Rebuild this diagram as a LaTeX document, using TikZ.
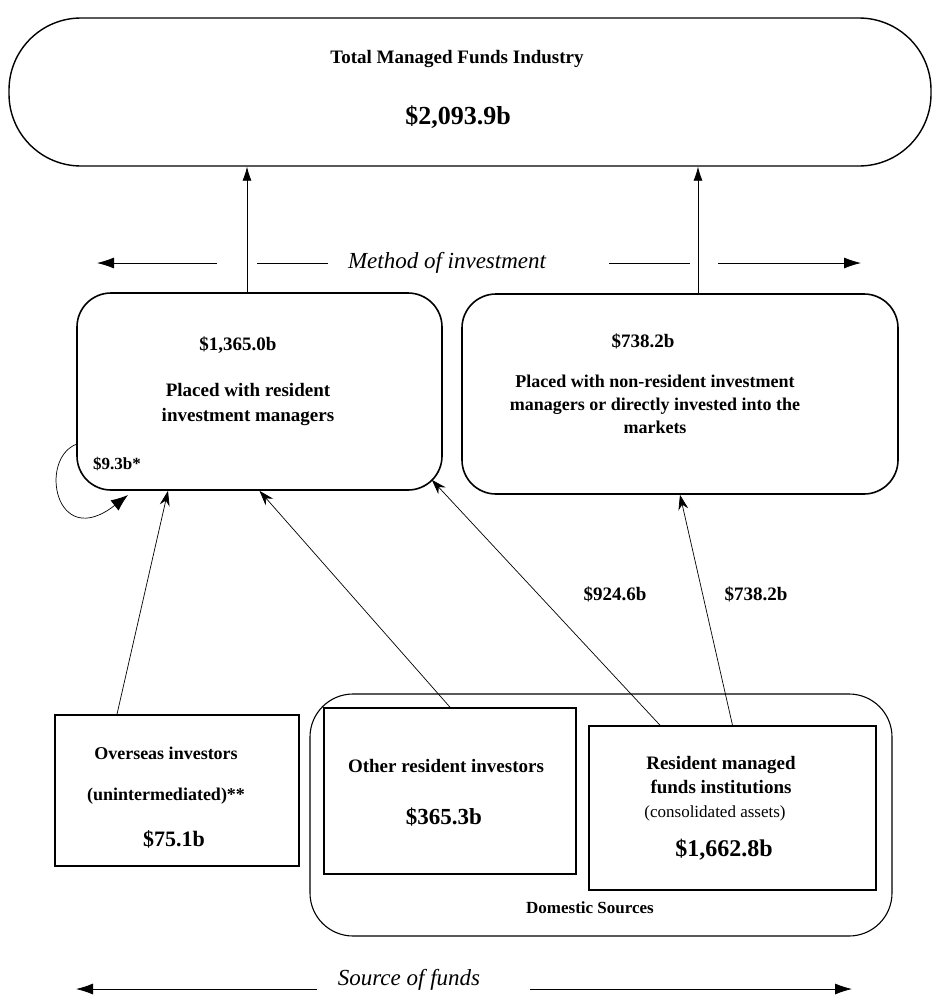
\documentclass[tikz,border=0pt]{standalone}
\usepackage{fontspec}
\setmainfont{Liberation Serif}
\usetikzlibrary{arrows.meta}

\begin{document}
\begin{tikzpicture}[
    x=1pt, y=-1pt,
    block/.style={draw, line width=1.6pt, inner sep=0pt},
    rblock/.style={block, rounded corners=34pt},
    txt/.style={font=\bfseries\fontsize{19}{24}\selectfont, align=center, inner sep=0pt},
    amt/.style={font=\bfseries\fontsize{23}{28}\selectfont, inner sep=0pt},
    axtxt/.style={font=\itshape\fontsize{23}{28}\selectfont, inner sep=0pt},
    line/.style={draw, line width=0.7pt, -{Stealth[length=15pt,width=10pt,inset=5pt]}},
    up/.style={draw, line width=0.8pt, -{Latex[length=14pt,width=9pt]}},
    axis/.style={draw, line width=0.8pt, -{Latex[length=17pt,width=11pt]}}
]
    \useasboundingbox (0,0) rectangle (934,996);

    % top
    \node [block, line width=1.4pt, rounded corners=72pt, minimum width=922pt, minimum height=148pt] (total) at (470,92) {};
    \node [txt] (totaltxt) at (457,59) {Total Managed Funds Industry};
    \node [amt, font=\bfseries\fontsize{26}{30}\selectfont] (totalamt) at (458,117) {\$2,093.9b};

    % method of investment
    \node [axtxt] (method) at (447,263) {Method of investment};
    \coordinate (mA) at (217,263); \coordinate (mB) at (97,263);
    \coordinate (mC) at (257,263); \coordinate (mD) at (328,263);
    \coordinate (mE) at (609,263); \coordinate (mF) at (690,263);
    \coordinate (mG) at (718,263); \coordinate (mH) at (861,263);
    \path [axis] (mA) -- (mB);
    \draw [line width=0.8pt] (mC) -- (mD);
    \draw [line width=0.8pt] (mE) -- (mF);
    \path [axis] (mG) -- (mH);

    % placement
    \node [rblock, minimum width=365pt, minimum height=197pt] (resmgr) at (259.5,391.5) {};
    \node [txt] (resmgramt) at (238,345) {\$1,365.0b};
    \node [txt, font=\bfseries\fontsize{19}{25}\selectfont] (resmgrtxt) at (248,404) {Placed with resident\\investment managers};
    \node [txt, font=\bfseries\fontsize{17}{20}\selectfont] (reinv) at (117,464) {\$9.3b*};

    \node [rblock, minimum width=436pt, minimum height=200pt] (nonres) at (680,394) {};
    \node [txt] (nonresamt) at (643,341) {\$738.2b};
    \node [txt, font=\bfseries\fontsize{18}{23}\selectfont] (nonrestxt) at (655,404) {Placed with non-resident investment\\managers or directly invested into the\\markets};

    % sources
    \node [draw, line width=1.1pt, rounded corners=43pt, minimum width=582pt, minimum height=242pt] (domestic) at (601,815) {};
    \node [txt, font=\bfseries\fontsize{17}{20}\selectfont] (domtxt) at (590,908) {Domestic Sources};

    \node [block, minimum width=244pt, minimum height=151pt] (overseas) at (177,790.5) {};
    \node [txt, font=\bfseries\fontsize{18}{41}\selectfont] (overseastxt) at (166,776) {Overseas investors\\(unintermediated)**};
    \node [amt, font=\bfseries\fontsize{22}{26}\selectfont] (overseasamt) at (174,839) {\$75.1b};

    \node [block, fill=white, minimum width=252pt, minimum height=166pt] (other) at (450,791) {};
    \node [txt] (othertxt) at (446,766) {Other resident investors};
    \node [amt] (otheramt) at (444,817) {\$365.3b};

    \node [block, minimum width=287pt, minimum height=164pt] (rmfi) at (732.5,808) {};
    \node [txt] (rmfitxt) at (721,775) {Resident managed\\funds institutions};
    \node [inner sep=0pt, font=\fontsize{17}{20}\selectfont] (rmfinote) at (715,813) {(consolidated assets)};
    \node [amt, font=\bfseries\fontsize{24}{28}\selectfont] (rmfiamt) at (724,850) {\$1,662.8b};

    % flows
    \path [up] ([xshift=-12.5pt]resmgr.north) -- ([xshift=-12.5pt]resmgr.north |- total.south);
    \path [up] ([xshift=18pt]nonres.north) -- ([xshift=18pt]nonres.north |- total.south);
    \path [line] ([xshift=-60pt]overseas.north) -- ([xshift=-91.5pt]resmgr.south);
    \path [line] (other.north) -- (resmgr.south);
    \path [line] ([xshift=-72.5pt]rmfi.north) -- ([shift={(-11pt,11pt)}]resmgr.south east);
    \path [line] (rmfi.north) -- (nonres.south);
    \coordinate (loopA) at (77,444);
    \coordinate (loopB) at (128,495);
    \path [draw, line width=0.7pt, -{Latex[length=17pt,width=13pt]}] (loopA) .. controls (38,458) and (55,552) .. (loopB);

    \node [txt] (flowres) at (615,594) {\$924.6b};
    \node [txt] (flownonres) at (756,594) {\$738.2b};

    % source of funds
    \node [axtxt] (source) at (409,980) {Source of funds};
    \coordinate (sA) at (317,989); \coordinate (sB) at (76,989);
    \coordinate (sC) at (530,989); \coordinate (sD) at (852,989);
    \path [axis] (sA) -- (sB);
    \path [axis] (sC) -- (sD);
\end{tikzpicture}
\end{document}
